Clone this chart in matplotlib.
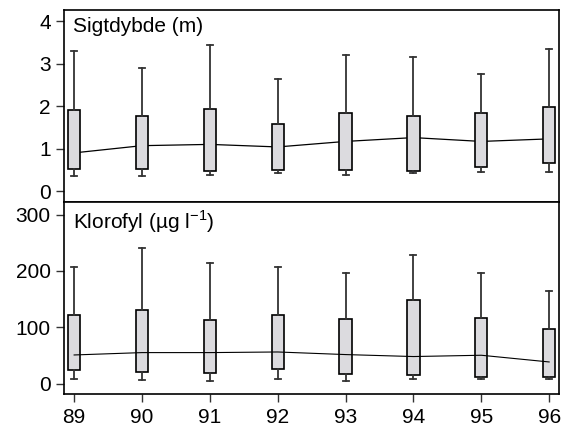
import matplotlib.pyplot as plt

plt.rcParams['font.family'] = ['Liberation Sans', 'DejaVu Sans']

years = [89, 90, 91, 92, 93, 94, 95, 96]

# Sigtdybde (m)
sig_whislo = [0.36, 0.36, 0.39, 0.42, 0.38, 0.42, 0.44, 0.46]
sig_q1 = [0.51, 0.52, 0.48, 0.50, 0.50, 0.48, 0.57, 0.65]
sig_q3 = [1.90, 1.78, 1.93, 1.58, 1.84, 1.78, 1.83, 1.99]
sig_whishi = [3.30, 2.91, 3.44, 2.65, 3.21, 3.15, 2.76, 3.36]
sig_line = [0.90, 1.07, 1.10, 1.04, 1.17, 1.26, 1.17, 1.23]

# Klorofyl (ug/l)
klo_whislo = [7.6, 6.4, 4.6, 7.6, 5.3, 7.6, 8.9, 8.9]
klo_q1 = [24.9, 20.6, 18.8, 26.6, 17.8, 16.0, 11.7, 11.7]
klo_q3 = [122.5, 130.0, 113.7, 121.3, 114.0, 148.5, 117.2, 97.7]
klo_whishi = [207, 240, 214, 207, 197, 228, 197, 165]
klo_line = [50.8, 55.0, 55.0, 56.1, 51.5, 48.0, 50.3, 38.4]


def make_stats(lo, q1, q3, hi, mid):
    return [dict(whislo=a, q1=b, med=m, q3=c, whishi=d, fliers=[])
            for a, b, c, d, m in zip(lo, q1, q3, hi, mid)]


fig, (ax1, ax2) = plt.subplots(2, 1, figsize=(5.61, 4.30), dpi=100, sharex=True)
fig.subplots_adjust(left=0.114, right=0.997, top=0.977, bottom=0.083, hspace=0)

box_kw = dict(positions=years, widths=0.18, patch_artist=True, showcaps=True,
              boxprops=dict(facecolor='#dcdbdf', edgecolor='black', linewidth=1.2),
              whiskerprops=dict(color='#333333', linewidth=1.3),
              capprops=dict(color='#333333', linewidth=1.3),
              medianprops=dict(linewidth=0), manage_ticks=False)

# upper panel: line hidden behind boxes
ax1.plot(years, sig_line, color='black', linewidth=0.9, zorder=1)
ax1.bxp(make_stats(sig_whislo, sig_q1, sig_q3, sig_whishi, sig_line), zorder=2, **box_kw)
ax1.set_ylim(-0.26, 4.27)
ax1.set_yticks([0, 1, 2, 3, 4])
ax1.text(0.018, 0.965, 'Sigtdybde (m)', transform=ax1.transAxes, fontsize=15,
         ha='left', va='top')

# lower panel: line on top
ax2.bxp(make_stats(klo_whislo, klo_q1, klo_q3, klo_whishi, klo_line), zorder=2, **box_kw)
ax2.plot(years, klo_line, color='black', linewidth=0.8, zorder=3)
ax2.set_ylim(-19, 322)
ax2.set_yticks([0, 100, 200, 300])
ax2.text(0.018, 0.965, r'Klorofyl (µg l$^{\mathregular{-1}}$)', transform=ax2.transAxes,
         fontsize=15, ha='left', va='top')

ax2.set_xlim(88.85, 96.15)
ax2.set_xticks(years)
ax2.set_xticklabels([str(y) for y in years])

for ax in (ax1, ax2):
    ax.tick_params(labelsize=15, length=6, width=1, color='#333333')
    for s in ax.spines.values():
        s.set_linewidth(1.2)

plt.savefig('out.png', dpi=100)
